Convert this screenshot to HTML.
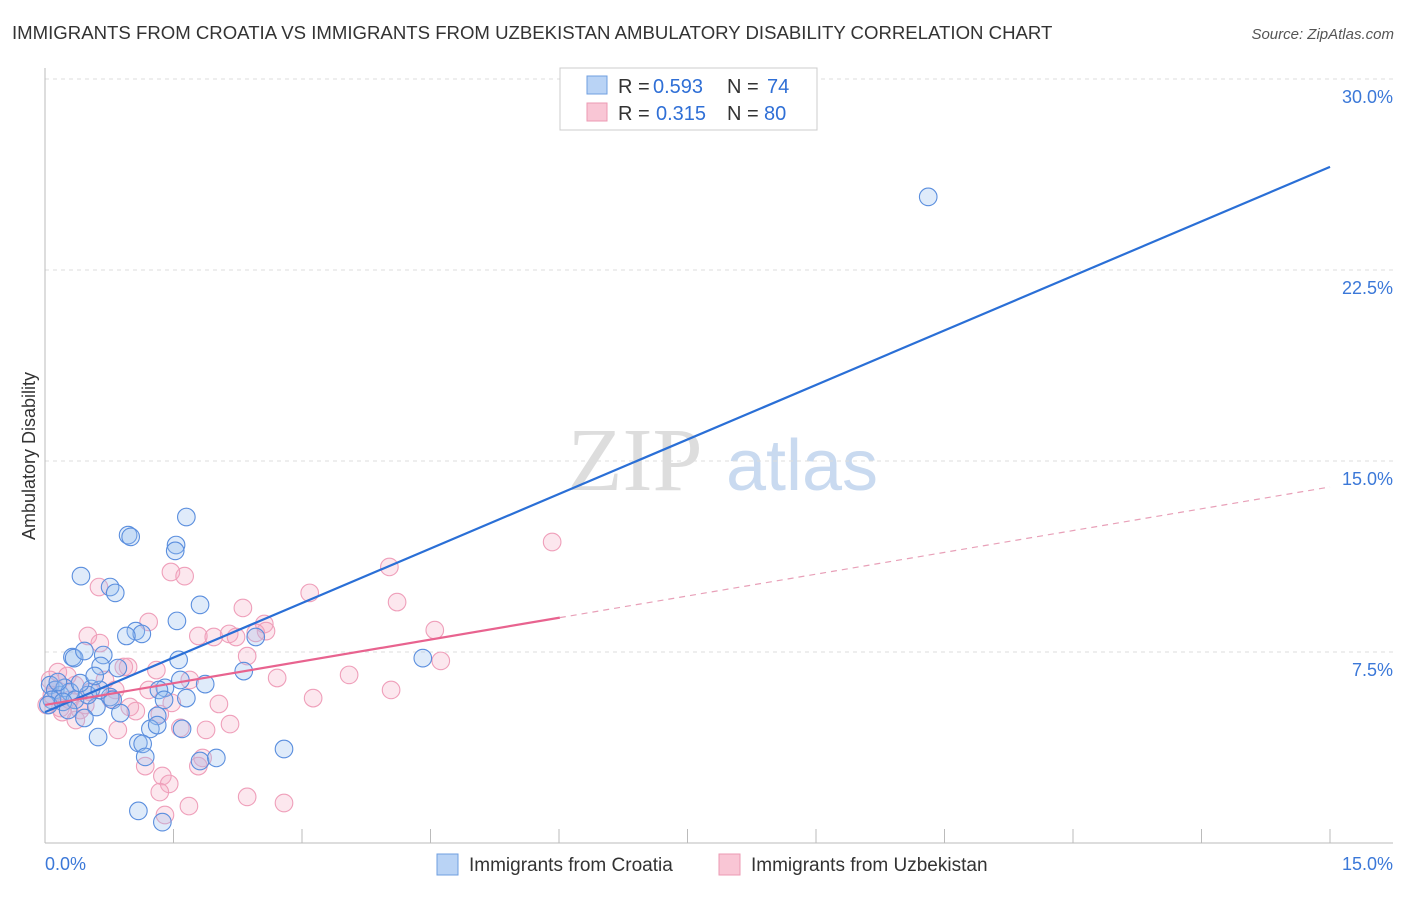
<!DOCTYPE html>
<html><head><meta charset="utf-8"><style>
body{margin:0;background:#fff;font-family:"Liberation Sans",sans-serif;}
</style></head><body>
<svg width="1406" height="892" xmlns="http://www.w3.org/2000/svg" font-family="Liberation Sans, sans-serif">
<text x="12" y="39" font-size="18.6" fill="#333">IMMIGRANTS FROM CROATIA VS IMMIGRANTS FROM UZBEKISTAN AMBULATORY DISABILITY CORRELATION CHART</text>
<text x="1394" y="39" font-size="15" fill="#555" text-anchor="end" font-style="italic">Source: ZipAtlas.com</text>
<text x="35" y="456" font-size="18" fill="#333" text-anchor="middle" transform="rotate(-90 35 456)">Ambulatory Disability</text>
<g><text x="635" y="490" font-size="90" fill="#ddd" font-family="Liberation Serif, serif" text-anchor="middle">ZIP</text><text x="802" y="490" font-size="72" fill="#c9daf0" text-anchor="middle">atlas</text></g>
<g id="grid"></g><g id="axes"></g><g id="pts"></g><g id="lines"></g>
<g>
<rect x="560" y="68" width="257" height="62" fill="#fff" stroke="#ccc"/>
<rect x="587" y="76" width="20" height="18" fill="#b9d3f5" stroke="#6f9fe0"/>
<rect x="587" y="103" width="20" height="18" fill="#f9c6d5" stroke="#ec9ab3"/>
<text x="618" y="93" font-size="20" fill="#333">R =</text>
<text x="653" y="93" font-size="20" fill="#2f6fd6">0.593</text>
<text x="727" y="93" font-size="20" fill="#333">N =</text>
<text x="767" y="93" font-size="20" fill="#2f6fd6">74</text>
<text x="618" y="120" font-size="20" fill="#333">R =</text>
<text x="656" y="120" font-size="20" fill="#2f6fd6">0.315</text>
<text x="727" y="120" font-size="20" fill="#333">N =</text>
<text x="764" y="120" font-size="20" fill="#2f6fd6">80</text>
</g>
<g>
<rect x="437" y="854" width="21" height="21" fill="#b9d3f5" stroke="#6f9fe0"/>
<text x="469" y="871" font-size="19" fill="#333">Immigrants from Croatia</text>
<rect x="719" y="854" width="21" height="21" fill="#f9c6d5" stroke="#ec9ab3"/>
<text x="751" y="871" font-size="19" fill="#333">Immigrants from Uzbekistan</text>
</g>
</svg>
<script>
const yTicks=[7.5,15,22.5,30];
const yTickLabels=["7.5%","15.0%","22.5%","30.0%"];
const xTickLabels=["0.0%","15.0%"];
const croatia=[[10.31,25.37],[1.65,12.8],[0.97,12.09],[1.0,12.02],[1.53,11.7],[1.52,11.47],[0.42,10.48],[0.76,10.05],[0.82,9.82],[1.81,9.35],[1.54,8.72],[1.06,8.32],[1.13,8.21],[0.95,8.13],[2.46,8.09],[0.32,7.3],[0.34,7.26],[0.46,7.54],[1.56,7.19],[0.68,7.38],[2.32,6.75],[4.41,7.26],[0.65,6.95],[0.85,6.87],[1.58,6.4],[1.87,6.24],[1.4,6.09],[1.33,6.01],[1.65,5.69],[1.39,5.62],[0.54,6.05],[0.76,5.73],[0.79,5.62],[0.6,5.34],[0.46,4.91],[0.88,5.1],[1.31,4.99],[1.23,4.48],[1.31,4.63],[1.6,4.48],[0.62,4.16],[1.09,3.93],[1.14,3.89],[1.17,3.38],[1.81,3.22],[2.0,3.34],[2.79,3.69],[1.09,1.26],[1.37,0.82],[0.06,6.2],[0.12,6.01],[0.18,5.81],[0.23,6.09],[0.08,5.62],[0.29,5.93],[0.15,6.32],[0.35,5.62],[0.04,5.42],[0.21,5.54],[0.5,5.81],[0.64,6.01],[0.41,6.28],[0.58,6.56],[0.27,5.22]];
const uzbek=[[5.92,11.82],[4.02,10.84],[1.47,10.64],[1.63,10.48],[0.63,10.05],[4.11,9.46],[3.09,9.82],[2.31,9.23],[1.21,8.68],[2.56,8.6],[2.58,8.32],[2.46,8.25],[4.55,8.36],[1.79,8.13],[2.15,8.21],[2.23,8.09],[1.97,8.09],[0.5,8.13],[0.64,7.85],[2.36,7.34],[4.62,7.15],[0.92,6.91],[0.97,6.91],[1.3,6.79],[3.55,6.6],[2.71,6.48],[1.69,6.4],[4.04,6.01],[1.21,6.01],[3.13,5.69],[0.77,5.65],[1.48,5.5],[2.03,5.46],[0.99,5.34],[1.06,5.18],[1.34,5.06],[2.16,4.67],[1.88,4.44],[1.58,4.52],[0.36,4.83],[0.18,5.3],[0.85,4.44],[1.17,3.02],[1.84,3.34],[1.79,3.02],[1.37,2.63],[1.45,2.32],[1.34,2.0],[2.36,1.81],[2.79,1.57],[1.68,1.45],[1.4,1.1],[0.06,6.4],[0.12,6.01],[0.02,5.42],[0.2,5.14],[0.29,5.62],[0.47,5.42],[0.15,6.71],[0.53,5.93],[0.35,6.2],[0.7,6.4],[0.82,6.01],[0.26,6.56],[0.41,5.22],[0.08,5.81]];
const blueTrend=[5.14,26.55];
const pinkTrend=[5.42,13.98];
const pinkSolidEnd=6.01;
const NS="http://www.w3.org/2000/svg";
const X=v=>45+v/15*1285, Y=v=>843-v/7.5*191;
function mk(t,a,p){const e=document.createElementNS(NS,t);for(const k in a)e.setAttribute(k,a[k]);p.appendChild(e);return e;}
const grid=document.getElementById('grid'),axes=document.getElementById('axes');
yTicks.forEach((t,i)=>{
 const l=mk('line',{x1:45,x2:1393,y1:Y(t),y2:Y(t),stroke:'#ddd','stroke-dasharray':'4,4'},grid);
 
 
 const tx=mk('text',{x:1393,y:Y(t)+24,'font-size':18,fill:'#3b78d8','text-anchor':'end'},axes);tx.textContent=yTickLabels[i];
 
 
});
mk('line',{x1:45,x2:45,y1:68,y2:843,stroke:'#bbb'},axes);
mk('line',{x1:45,x2:1393,y1:843,y2:843,stroke:'#bbb'},axes);
for(let i=1;i<=10;i++){const t=mk('line',{x1:X(i*1.5),x2:X(i*1.5),y1:829,y2:843,stroke:'#bbb'},axes);
 
 }
[[0,'start',45],[15,'end',1393]].forEach((d,i)=>{const t=mk('text',{x:d[2],y:870,'font-size':18,fill:'#3b78d8','text-anchor':d[1]},axes);t.textContent=xTickLabels[i];
 
 });
const pts=document.getElementById('pts');
uzbek.forEach(p=>{const c=mk('circle',{cx:X(p[0]),cy:Y(p[1]),r:8.8,fill:'rgba(246,170,195,0.28)',stroke:'#ef9fba','stroke-width':1.1},pts);
 
 });
croatia.forEach(p=>{const c=mk('circle',{cx:X(p[0]),cy:Y(p[1]),r:8.8,fill:'rgba(150,190,240,0.3)',stroke:'#5a8ede','stroke-width':1.1},pts);
 
 });
const ln=document.getElementById('lines');
let b=mk('line',{x1:X(0),y1:Y(blueTrend[0]),x2:X(15),y2:Y(blueTrend[1]),stroke:'#2a6fd6','stroke-width':2.2},ln);


const pm=v=>pinkTrend[0]+(pinkTrend[1]-pinkTrend[0])*v/15;
let p1=mk('line',{x1:X(0),y1:Y(pm(0)),x2:X(pinkSolidEnd),y2:Y(pm(pinkSolidEnd)),stroke:'#e8638f','stroke-width':2.2},ln);


let p2=mk('line',{x1:X(pinkSolidEnd),y1:Y(pm(pinkSolidEnd)),x2:X(15),y2:Y(pm(15)),stroke:'#e8a0b8','stroke-width':1.2,'stroke-dasharray':'6,5'},ln);


</script>
</body></html>
